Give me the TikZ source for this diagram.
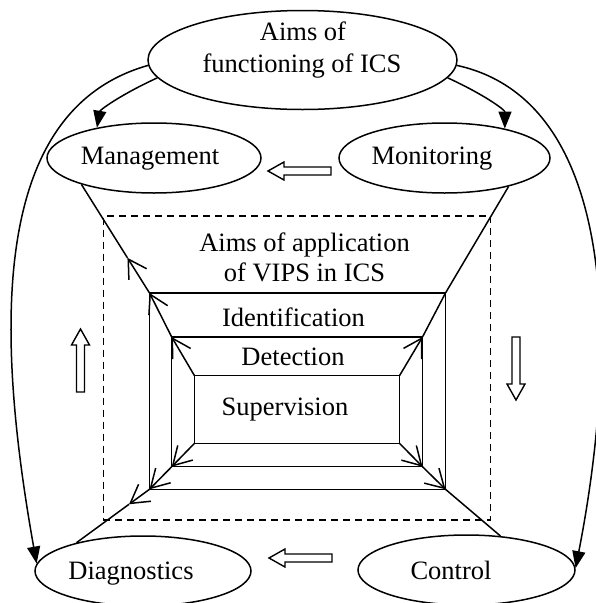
\documentclass[tikz,border=0pt]{standalone}
\usepackage{fontspec}
\setmainfont{Liberation Serif}
\usetikzlibrary{arrows.meta,shapes.geometric,calc}

\begin{document}
\begin{tikzpicture}[x=1pt,y=-1pt,
  line width=1.5pt,
  oval/.style={draw, ellipse, inner sep=0pt},
  box/.style={draw, inner sep=0pt, outer sep=0pt},
  lbl/.style={font=\fontsize{26.5}{30.5}\selectfont, inner sep=0pt, anchor=base},
  barb/.style={-{Straight Barb[length=18pt,width=21pt]}},
  feed/.style={-{Triangle[length=17pt,width=13pt]}},
  hollow/.pic={\draw[line width=1.4pt, fill=white]
      (0,-4) -- (-47,-4) -- (-47,-9) -- (-63,0) -- (-47,9) -- (-47,4) -- (0,4) -- cycle;}
]
\useasboundingbox (0,0) rectangle (595,603);

% goal ellipses
\node[oval, minimum width=309, minimum height=99] (aims) at (302.5,60) {};
\node[oval, minimum width=214, minimum height=70] (mgmt) at (154,158) {};
\node[oval, minimum width=211, minimum height=70] (mon)  at (444.5,158) {};
\node[oval, minimum width=216, minimum height=70] (diag) at (143,571) {};
\node[oval, minimum width=217, minimum height=70] (ctrl) at (466.5,570) {};

\node[lbl] (aimsA) at (303,40) {Aims of};
\node[lbl] (aimsB) at (302,72) {functioning of ICS};
\node[lbl] (mgmtT) at (150,164.5) {Management};
\node[lbl] (monT)  at (432,164.5) {Monitoring};
\node[lbl] (diagT) at (131,579) {Diagnostics};
\node[lbl] (ctrlT) at (451,579) {Control};

% nested frames of the VIPS aims
\node[box, dash pattern=on 7pt off 5pt, minimum width=387.2, minimum height=304] (vips) at (296.9,368) {};
\node[box, minimum width=296, minimum height=196.3] (ident) at (297.5,391.15) {};
\node[box, minimum width=250.8, minimum height=129.7] (det) at (297.1,401.85) {};
\node[box, minimum width=205, minimum height=67.6] (sup) at (297,409.5) {};

\node[lbl] (vipsA) at (304.5,251.7) {Aims of application};
\node[lbl] (vipsB) at (304.5,281.7) {of VIPS in ICS};
\node[lbl] (identT) at (293.5,326.7) {Identification};
\node[lbl] (detT) at (293,365) {Detection};
\node[lbl] (supT) at (285,415) {Supervision};

% corner chains
\draw[barb] (sup.north west) -- (det.north west);
\draw[barb] (det.north west) -- (ident.north west);
\coordinate (tlmid) at ($(ident.north west)!0.324!(mgmt.200.8)$);
\draw[barb] (ident.north west) -- (tlmid);
\draw (tlmid) -- (mgmt.200.8);

\draw[barb] (sup.north east) -- (det.north east);
\draw (det.north east) -- (ident.north east) -- (mon.-24.4);

\draw[barb] (sup.south west) -- (det.south west);
\draw[barb] (det.south west) -- (ident.south west);
\coordinate (blmid) at ($(ident.south west)!0.28!(diag.157.3)$);
\draw[barb] (ident.south west) -- (blmid);
\draw (blmid) -- (diag.157.3);

\draw[barb] (sup.south east) -- (det.south east);
\draw[barb] (det.south east) -- (ident.south east);
\draw (ident.south east) -- (ctrl.45.9);

% links from the top ellipse
\draw[feed] (aims.187) .. controls (120,95) and (100,110) .. (mgmt.152.6);
\draw[feed] (aims.-7.1) .. controls (485,95) and (505,110) .. (mon.26);
\draw[feed] (aims.182.2) .. controls (-10,110) and (-5,330) .. (diag.176.8);
\draw[feed] (aims.-2.2) .. controls (615,100) and (620,340) .. (ctrl.1.6);

% block arrows
\pic at (331,171) {hollow};
\pic at (332,558) {hollow};
\pic[rotate=-90] at (80.5,392) {hollow};
\pic[rotate=90] at (516,337) {hollow};
\end{tikzpicture}
\end{document}
